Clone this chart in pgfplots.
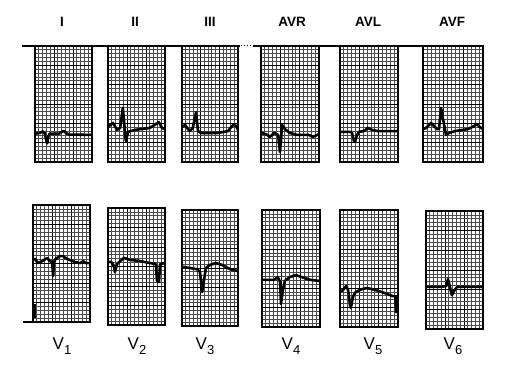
\documentclass[border=0pt]{standalone}
\usepackage{pgfplots}
\pgfplotsset{compat=1.18}
\usepackage{fontspec}
\setmainfont{Liberation Sans}
\pgfplotsset{
  panel/.style={
    scale only axis, anchor=south west,
    xmin=0, xmax=15, ymin=0, ymax=30,
    xtick={0,5,10,15}, ytick={0,5,...,30},
    minor xtick={0,...,15}, minor ytick={0,...,30},
    xticklabels={}, yticklabels={},
    tick style={draw=none},
    grid=both,
    major grid style={black, line width=0.9pt},
    minor grid style={black!70, line width=0.75pt},
    axis line style={black, line width=1.5pt},
    axis background/.style={fill=white},
  },
  lower/.style={panel,
    execute at end axis={\draw[line width=2.2pt] (rel axis cs:0,1) -- (rel axis cs:1,1);}},
  ecg/.style={black, line width=2.6pt, line join=round, no markers},
}
\begin{document}
\begin{tikzpicture}
\path[fill=white] (0pt,0pt) rectangle (516pt,377pt);
% top baseline across the upper strips
\draw[line width=1.4pt] (22pt,331pt) -- (240pt,331pt);
\draw[line width=1pt, dotted] (241pt,331pt) -- (252pt,331pt);
\draw[line width=1.4pt] (253pt,331pt) -- (484pt,331pt);
% lead labels
\foreach \x/\t in {62/I, 135/II, 210/III, 292/AVR, 368/AVL, 452/AVF}
  \node[font=\fontsize{13.5}{15}\selectfont\bfseries] at (\x pt,355pt) {\t};
\foreach \x/\n in {62/1, 137/2, 205/3, 291/4, 373/5, 453/6}
  \node[font=\fontsize{17}{18}\selectfont] at (\x pt,31pt) {V\raisebox{-0.6ex}{\fontsize{13}{14}\selectfont\n}};

% ---------- Lead I
\begin{axis}[panel, at={(35pt,215pt)}, width=57pt, height=116pt]
\addplot[ecg] coordinates {(0,7.3)(1.3,7.5)(2.0,7.9)(2.5,7.6)(3.0,5.5)(3.2,4.8)(3.5,6.5)(3.8,7.3)(6.3,7.3)(7.0,7.8)(7.6,8.0)(8.3,7.4)(9,7.1)(15,7.0)};
\end{axis}
% ---------- Lead II
\begin{axis}[panel, at={(108pt,215pt)}, width=57pt, height=116pt]
\addplot[ecg] coordinates {(0,9.05)(1.3,10.1)(2.4,8.3)(3.2,8.8)(3.9,14.0)(4.7,5.4)(5.3,7.8)(7.1,8.3)(11.0,8.8)(12.6,9.8)(13.4,10.3)(14.2,8.8)(15,8.5)};
\end{axis}
% ---------- Lead III
\begin{axis}[panel, at={(182pt,215pt)}, width=56pt, height=116pt]
\addplot[ecg] coordinates {(0,9.05)(0.8,9.6)(1.6,8.5)(2.1,8.0)(2.9,8.8)(3.75,12.9)(4.3,8.0)(5.1,7.5)(9.6,7.5)(12.3,8.0)(13.9,9.8)(14.5,9.3)(15,8.3)};
\end{axis}
% ---------- AVR
\begin{axis}[panel, at={(261pt,215pt)}, width=58pt, height=116pt]
\addplot[ecg] coordinates {(0,7.5)(1.3,7.2)(2.3,6.5)(3.4,7.5)(4.4,7.0)(4.9,2.6)(5.2,5.7)(5.4,9.6)(6.2,8.5)(7.5,7.5)(9.3,7.0)(12.4,7.0)(13.4,6.5)(15,7.2)};
\end{axis}
% ---------- AVL
\begin{axis}[panel, at={(340pt,215pt)}, width=58pt, height=116pt]
\addplot[ecg] coordinates {(0,7.8)(2.6,7.8)(3.1,7.5)(3.6,5.4)(3.9,5.2)(4.4,7.0)(4.9,7.8)(6.2,8.0)(7.2,8.8)(8.3,8.3)(9.8,8.0)(15,8.0)};
\end{axis}
% ---------- AVF
\begin{axis}[panel, at={(423pt,215pt)}, width=60pt, height=116pt]
\addplot[ecg] coordinates {(0,8.5)(0.75,8.8)(2.0,10.1)(2.75,9.3)(3.5,8.5)(4.0,8.5)(4.5,14.0)(5.25,9.8)(5.75,7.0)(6.5,7.5)(8.0,8.0)(11.25,8.5)(12.75,9.3)(13.5,9.8)(14.25,9.0)(15,8.5)};
\end{axis}

% ---------- V1
\begin{axis}[lower, at={(33pt,55pt)}, width=57pt, height=117pt, clip=false]
\addplot[black, line width=1.3pt, no markers] coordinates {(-2.6,0)(0,0)};
\fill[black] (axis cs:-0.3,1) rectangle (axis cs:0.7,4.5);
\addplot[ecg] coordinates {(0,16.2)(0.5,16.2)(1.3,15.1)(2.4,15.6)(3.7,16.4)(4.5,15.6)(5.0,15.4)(5.3,11.8)(5.5,15.4)(6.0,16.2)(7.1,16.9)(7.9,16.9)(8.9,16.2)(11.0,15.4)(12.4,15.1)(13.2,15.6)(13.9,15.1)(15,15.1)};
\end{axis}
% ---------- V2
\begin{axis}[lower, at={(108pt,52pt)}, width=57pt, height=117pt]
\addplot[ecg] coordinates {(0,16.2)(0.8,16.2)(1.6,15.1)(1.8,13.6)(2.4,15.6)(3.2,16.4)(4.2,17.2)(5.8,16.7)(8.4,16.4)(11.0,15.9)(12.6,15.6)(12.9,11.3)(13.4,11.0)(13.7,15.6)(15,15.9)};
\end{axis}
% ---------- V3
\begin{axis}[lower, at={(182pt,51pt)}, width=56pt, height=116pt]
\addplot[ecg] coordinates {(0,15.3)(2.1,15.0)(4.0,14.7)(4.8,14.0)(5.4,8.8)(5.9,11.9)(6.4,15.0)(7.5,15.8)(9.1,16.3)(10.7,15.8)(12.9,14.7)(15,14.2)};
\end{axis}
% ---------- V4
\begin{axis}[lower, at={(262pt,50pt)}, width=58pt, height=117pt]
\addplot[ecg] coordinates {(0,12.1)(3.1,12.1)(4.1,12.8)(4.7,11.5)(4.9,5.9)(5.4,9.5)(5.9,11.8)(7.2,12.8)(8.8,13.3)(10.3,12.8)(12.4,12.1)(15,11.8)};
\end{axis}
% ---------- V5
\begin{axis}[lower, at={(340pt,50pt)}, width=58pt, height=117pt]
\addplot[ecg] coordinates {(0,9.0)(0.8,9.5)(1.6,10.5)(2.1,9.5)(2.6,5.6)(2.8,4.9)(3.4,7.9)(4.1,9.0)(5.7,9.7)(7.0,10.0)(9.1,9.5)(11.6,8.7)(13.7,7.9)(14.3,7.9)(14.5,3.8)(14.7,4.4)(14.7,7.9)(15,7.9)};
\end{axis}
% ---------- V6
\begin{axis}[lower, at={(426pt,48pt)}, width=57pt, height=118pt]
\addplot[ecg] coordinates {(0,10.7)(3.7,10.7)(5.3,10.9)(5.8,12.7)(6.3,10.7)(6.8,8.6)(7.4,9.7)(8.2,10.7)(15,10.7)};
\end{axis}
\end{tikzpicture}
\end{document}
